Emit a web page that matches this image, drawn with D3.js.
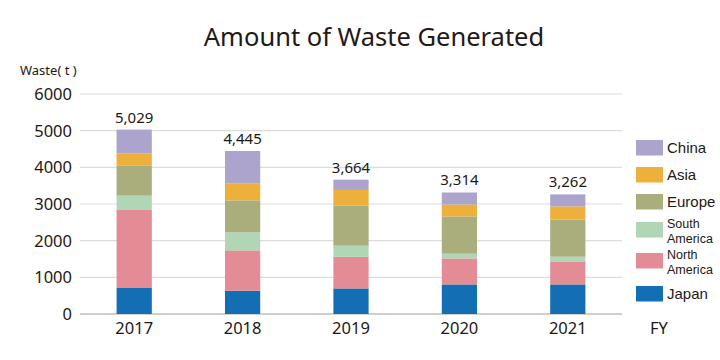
<!DOCTYPE html>
<html><head><meta charset="utf-8">
<script src="https://cdn.jsdelivr.net/npm/d3@7"></script>
<style>body{margin:0;background:#fff}svg{display:block}text{font-family:"Noto Sans",sans-serif;fill:#231815}.lg text{font-family:"Liberation Sans",Arial,sans-serif}</style>
</head><body><div id="chart"></div>
<script>
const years = ["2017","2018","2019","2020","2021"];
const seriesNames = ["Japan","North America","South America","Europe","Asia","China"];
const japan = [709, 636, 698, 807, 807];
const northAmerica = [2144, 1100, 864, 709, 611];
const southAmerica = [374, 491, 300, 128, 145];
const europe = [827, 873, 1091, 1018, 1009];
const asia = [321, 455, 430, 325, 363];
const china = [654, 890, 281, 327, 327];
const totals = [5029, 4445, 3664, 3314, 3262];
const yTicks = [0,1000,2000,3000,4000,5000,6000];
const colors = ["#146EB4","#E38C95","#B0D6B6","#AAAE7D","#EDB03B","#ACA4CC"];
const legendLabels = [["China"],["Asia"],["Europe"],["South","America"],["North","America"],["Japan"]];
const legendColors = ["#ACA4CC","#EDB03B","#AAAE7D","#B0D6B6","#E38C95","#146EB4"];

const W=720,H=360;
const svg=d3.select("#chart").append("svg").attr("width",W).attr("height",H);
const x=d3.scaleBand().domain(years).range([80,622]).paddingInner(0.675).paddingOuter(0.3375);
const y=d3.scaleLinear().domain([0,6000]).range([314,94]);

const rows=years.map((yr,i)=>({year:yr,Japan:japan[i],"North America":northAmerica[i],"South America":southAmerica[i],Europe:europe[i],Asia:asia[i],China:china[i]}));
const stack=d3.stack().keys(seriesNames)(rows);

// grid
svg.append("g").selectAll("line").data(yTicks.filter(d=>d>0)).join("line")
 .attr("x1",80).attr("x2",622).attr("y1",d=>y(d)).attr("y2",d=>y(d))
 .attr("stroke","#dcdcdc").attr("stroke-width",1.2);
svg.append("line").attr("x1",80).attr("x2",622).attr("y1",y(0)).attr("y2",y(0)).attr("stroke","#a0a0a0").attr("stroke-width",1.2);

// y labels
svg.append("g").selectAll("text").data(yTicks).join("text")
 .attr("x",72).attr("y",d=>y(d)).attr("dy","0.36em").attr("text-anchor","end")
 .attr("font-size",16.5).text(d=>d);
svg.append("text").attr("x",20).attr("y",75).attr("font-size",13).text("Waste( t )");

// bars
svg.append("g").selectAll("g").data(stack).join("g").attr("fill",(d,i)=>colors[i])
 .selectAll("rect").data(d=>d).join("rect")
 .attr("x",d=>x(d.data.year)).attr("width",x.bandwidth())
 .attr("y",d=>y(d[1])).attr("height",d=>y(d[0])-y(d[1]));

// totals
svg.append("g").selectAll("text").data(years).join("text")
 .attr("x",d=>x(d)+x.bandwidth()/2).attr("y",(d,i)=>y(totals[i])-7)
 .attr("text-anchor","middle").attr("font-size",15)
 .text((d,i)=>d3.format(",")(totals[i]));

// x labels
svg.append("g").selectAll("text").data(years).join("text")
 .attr("x",d=>x(d)+x.bandwidth()/2).attr("y",334).attr("text-anchor","middle")
 .attr("font-size",16.5).text(d=>d);
svg.append("text").attr("x",650).attr("y",334).attr("font-size",16.5).text("FY");

// title
svg.append("text").attr("x",374).attr("y",46).attr("text-anchor","middle").attr("font-size",25.5).text("Amount of Waste Generated");

// legend
const ly=[140,167,194,222,253,286];
const lg=svg.append("g").attr("class","lg").selectAll("g").data(legendLabels).join("g");
lg.append("rect").attr("x",636).attr("y",(d,i)=>ly[i]).attr("width",27).attr("height",15.5).attr("fill",(d,i)=>legendColors[i]);
lg.each(function(d,i){
  const g=d3.select(this);
  if(d.length===1){
    g.append("text").attr("x",667).attr("y",ly[i]+13).attr("font-size",15).text(d[0]);
  } else {
    g.append("text").attr("x",667).attr("y",ly[i]+6).attr("font-size",12.5).text(d[0]);
    g.append("text").attr("x",667).attr("y",ly[i]+20.5).attr("font-size",12.5).text(d[1]);
  }
});
</script></body></html>
